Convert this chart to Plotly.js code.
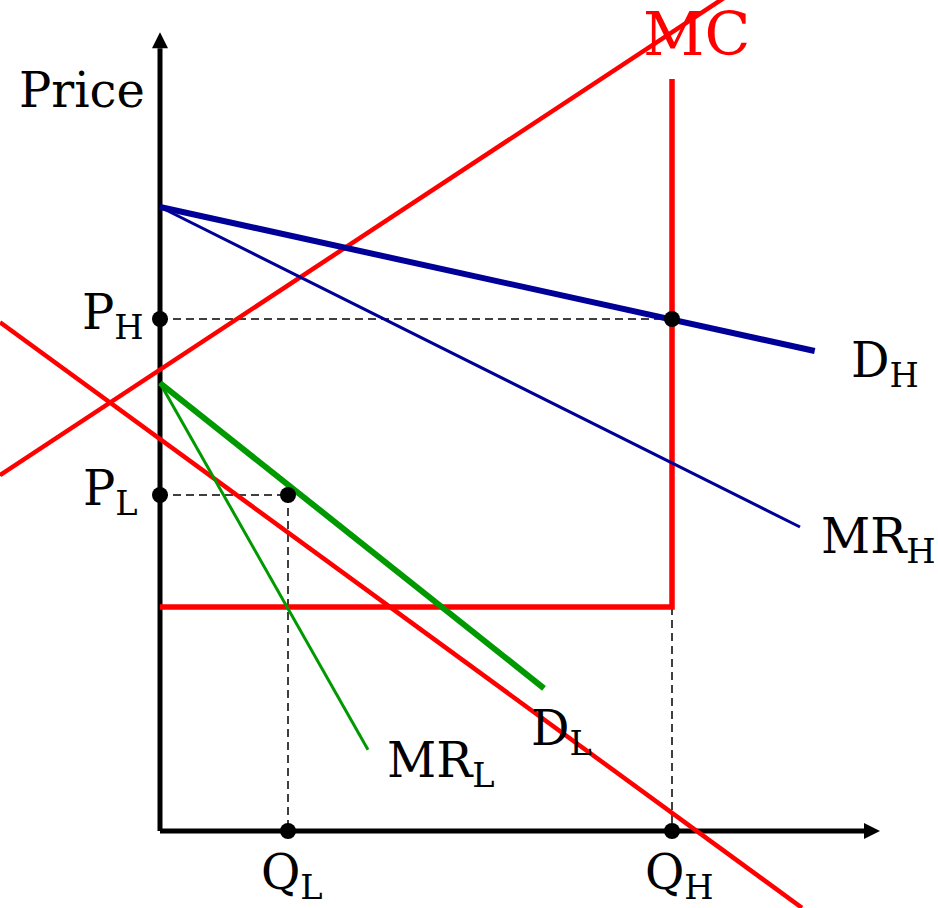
<!DOCTYPE html>
<html>
<head>
<meta charset="utf-8">
<script src="https://cdn.plot.ly/plotly-3.0.1.min.js"></script>
<style>html,body{margin:0;padding:0;background:#fff}#chart{width:938px;height:908px}</style>
</head>
<body>
<div id="chart"></div>
<script>
// Quantity / price values (1 unit = one grid step)
var QL = 2, QH = 8;
var PL = 5.25, PH = 8;

var demandH_x = [0, 10.23];
var demandH_y = [9.75, 7.5];
var mrH_x = [0, 10];
var mrH_y = [9.75, 4.75];

var demandL_x = [0, 6];
var demandL_y = [7, 2.23];
var mrL_x = [0, 3.25];
var mrL_y = [7, 1.27];

var mcStep_x = [0, 8, 8];
var mcStep_y = [3.5, 3.5, 11.75];

var redUp_x = [-2.5, 9];
var redUp_y = [5.56, 13.14];
var redDown_x = [-2.5, 10.03];
var redDown_y = [7.95, -1.2];

var axisYTop = 12.23, axisYTip = 12.48;
var axisXEnd = 11.0, axisXTip = 11.25;

var labels = [
  {t: 'Price', x: -2.24, y: 11.58, anchor: 'left', color: 'black', size: 48},
  {t: 'MC', x: 7.51, y: 12.46, anchor: 'left', color: '#ff0000', size: 60},
  {t: 'P<sub>H</sub>', x: -0.22, y: 8.05, anchor: 'right', color: 'black', size: 48},
  {t: 'P<sub>L</sub>', x: -0.31, y: 5.3, anchor: 'right', color: 'black', size: 48},
  {t: 'Q<sub>L</sub>', x: 2.07, y: -0.7, anchor: 'center', color: 'black', size: 48},
  {t: 'Q<sub>H</sub>', x: 8.11, y: -0.7, anchor: 'center', color: 'black', size: 48},
  {t: 'D<sub>H</sub>', x: 10.77, y: 7.31, anchor: 'left', color: 'black', size: 48},
  {t: 'MR<sub>H</sub>', x: 10.29, y: 4.55, anchor: 'left', color: 'black', size: 48},
  {t: 'D<sub>L</sub>', x: 5.76, y: 1.56, anchor: 'left', color: 'black', size: 48},
  {t: 'MR<sub>L</sub>', x: 3.52, y: 1.06, anchor: 'left', color: 'black', size: 48}
];

var RED = '#ff0000', BLUE = '#000099', GREEN = '#009900';
function line(x, y, color, width, dash) {
  return {type: 'scatter', mode: 'lines', x: x, y: y, hoverinfo: 'skip',
    line: {color: color, width: width, dash: dash || 'solid'}, showlegend: false};
}

var traces = [
  // axes
  line([0, 0], [0, axisYTop], 'black', 5),
  line([0, axisXEnd], [0, 0], 'black', 5),
  {type: 'scatter', mode: 'markers', x: [0], y: [axisYTip], hoverinfo: 'skip', showlegend: false,
    marker: {symbol: 'arrow-up', size: 16, color: 'black', line: {width: 0}}},
  {type: 'scatter', mode: 'markers', x: [axisXTip], y: [0], hoverinfo: 'skip', showlegend: false,
    marker: {symbol: 'arrow-right', size: 16, color: 'black', line: {width: 0}}},
  // dashed guides
  line([0, QH], [PH, PH], 'black', 1.5, '8px,5px'),
  line([0, QL], [PL, PL], 'black', 1.5, '8px,5px'),
  line([QL, QL], [PL, 0], 'black', 1.5, '8px,5px'),
  line([QH, QH], [mcStep_y[0], 0], 'black', 1.5, '8px,5px'),
  // red lines
  line(redUp_x, redUp_y, RED, 4.5),
  line(redDown_x, redDown_y, RED, 4.5),
  line(mcStep_x, mcStep_y, RED, 5.5),
  // demand / MR
  line(mrH_x, mrH_y, BLUE, 3),
  line(demandH_x, demandH_y, BLUE, 6),
  line(mrL_x, mrL_y, GREEN, 3),
  line(demandL_x, demandL_y, GREEN, 6),
  // points
  {type: 'scatter', mode: 'markers', hoverinfo: 'skip', showlegend: false,
    x: [0, QH, 0, QL, QL, QH], y: [PH, PH, PL, PL, 0, 0],
    marker: {size: 16, color: 'black', line: {width: 0}}}
];

var annotations = labels.map(function (l) {
  return {text: l.t, x: l.x, y: l.y, xref: 'x', yref: 'y', showarrow: false,
    xanchor: l.anchor, yanchor: 'middle',
    font: {family: 'DejaVu Serif', size: l.size, color: l.color}};
});

var layout = {
  width: 938, height: 908,
  margin: {l: 0, r: 0, t: 0, b: 0, pad: 0},
  paper_bgcolor: 'white', plot_bgcolor: 'white',
  xaxis: {range: [-2.5, 12.15625], visible: false, fixedrange: true},
  yaxis: {range: [-1.203125, 12.984375], visible: false, fixedrange: true},
  showlegend: false,
  annotations: annotations
};

Plotly.newPlot('chart', traces, layout, {staticPlot: true, displayModeBar: false});
</script>
</body>
</html>
